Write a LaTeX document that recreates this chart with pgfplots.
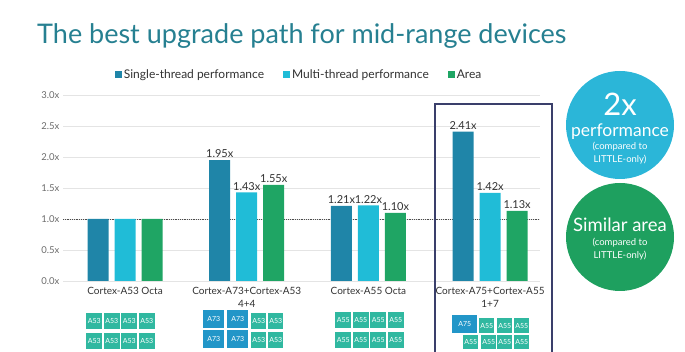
\documentclass[border=0pt]{standalone}
\usepackage{pgfplots}
\pgfplotsset{compat=1.18}
\usepackage{fontspec}
\setmainfont{Lato}
\definecolor{cSingle}{RGB}{31,133,168}
\definecolor{cMulti}{RGB}{32,188,215}
\definecolor{cArea}{RGB}{31,165,100}
\definecolor{cTitle}{RGB}{38,128,145}
\definecolor{cCircB}{RGB}{43,182,216}
\definecolor{cCircG}{RGB}{30,160,95}
\definecolor{cLittle}{RGB}{48,184,160}
\definecolor{cBig}{RGB}{34,150,200}
\definecolor{cBox}{RGB}{58,63,107}
\definecolor{cGrid}{RGB}{228,228,228}
\definecolor{cTxt}{RGB}{50,50,50}
\newcommand{\chip}[6]{\node[fill=#5,minimum width=#3pt,minimum height=#4pt,inner sep=0pt,anchor=north west,text=white,font=\fontsize{7}{8}\selectfont] at (#1pt,{(352-#2)*1pt}) {#6};}
\begin{document}
\begin{tikzpicture}
\useasboundingbox (0,0) rectangle (685pt,352pt);
\node[anchor=west,text=cTitle,font=\fontsize{27}{30}\selectfont,inner sep=0pt] at (37pt,{(352-36)*1pt}) {The best upgrade path for mid-range devices};
\begin{axis}[
  at={(63pt,71pt)}, anchor=south west,
  scale only axis, width=477pt, height=186pt,
  xmin=-0.51, xmax=3.41, ymin=0, ymax=3.0,
  ybar, bar width=21pt,
  ytick={0,0.5,...,3.0},
  xtick={0,1,2,3},
  xticklabels={Cortex-A53 Octa,{Cortex-A73+Cortex-A53\\4+4},Cortex-A55 Octa,{Cortex-A75+Cortex-A55\\1+7}},
  xticklabel style={align=center,font=\fontsize{10}{12.5}\selectfont,text=cTxt,yshift=-3pt},
  yticklabel style={font=\fontsize{9.5}{10}\selectfont,text=gray!85!black},
  /pgf/number format/assume math mode=true,
  yticklabel={\pgfmathprintnumber[fixed,fixed zerofill,precision=1]{\tick}x},
  major tick length=0pt,
  axis line style={draw=none},
  ymajorgrids, grid style={cGrid,line width=0.8pt},
  legend columns=-1,
  legend style={at={(0.495,1.108)},anchor=center,draw=none,fill=none,font=\fontsize{12}{14}\selectfont,text=cTxt,/tikz/every even column/.append style={column sep=17pt}},
  legend image code/.code={\fill[#1] (0pt,-3.5pt) rectangle (7pt,3.5pt);},
]
\addplot[sharp plot,densely dotted,gray!60!black,line width=0.8pt,forget plot] coordinates {(-0.51,1) (3.41,1)};
\addplot[bar shift=-27pt,fill=cSingle,draw=none,nodes near coords,point meta=explicit symbolic,every node near coord/.append style={font=\fontsize{11}{12}\selectfont,text=cTxt,inner sep=2pt}] coordinates {(0,1.00) [\relax] (1,1.95) [1.95x] (2,1.21) [1.21x] (3,2.41) [2.41x]};
\addplot[bar shift=0pt,fill=cMulti,draw=none,nodes near coords,point meta=explicit symbolic,every node near coord/.append style={font=\fontsize{11}{12}\selectfont,text=cTxt,inner sep=2pt}] coordinates {(0,1.00) [\relax] (1,1.43) [1.43x] (2,1.22) [1.22x] (3,1.42) [1.42x]};
\addplot[bar shift=27pt,fill=cArea,draw=none,nodes near coords,point meta=explicit symbolic,every node near coord/.append style={font=\fontsize{11}{12}\selectfont,text=cTxt,inner sep=2pt}] coordinates {(0,1.00) [\relax] (1,1.55) [1.55x] (2,1.10) [1.10x] (3,1.13) [1.13x]};
\legend{Single-thread performance,Multi-thread performance,Area}
\end{axis}
% highlight box
\draw[cBox,line width=1.2pt] (435pt,-2pt) -- (435pt,{(352-104)*1pt}) -- (552pt,{(352-104)*1pt}) -- (552pt,-2pt);
% circles
\fill[cCircB] (620pt,{(352-125)*1pt}) circle (54pt);
\fill[cCircG] (620pt,{(352-237)*1pt}) circle (54pt);
\node[text=white,font=\fontsize{31}{33}\selectfont] at (620pt,{(352-104)*1pt}) {2x};
\node[text=white,font=\fontsize{17.5}{20}\selectfont] at (620pt,{(352-132)*1pt}) {performance};
\node[text=white,font=\fontsize{9.5}{13}\selectfont,align=center] at (620pt,{(352-153)*1pt}) {(compared to\\LITTLE-only)};
\node[text=white,font=\fontsize{18.5}{20}\selectfont] at (620pt,{(352-225)*1pt}) {Similar area};
\node[text=white,font=\fontsize{9.5}{13}\selectfont,align=center] at (620pt,{(352-249)*1pt}) {(compared to\\LITTLE-only)};
% chips group 1
\foreach \cx in {86,103.5,121,138.5}{\foreach \cy in {312.5,333}{\chip{\cx}{\cy}{16}{16}{cLittle}{A53}}}
% chips group 3
\foreach \cx in {335,352.5,370,387.5}{\foreach \cy in {312,332}{\chip{\cx}{\cy}{16}{16}{cLittle}{A55}}}
% chips group 2
\foreach \cx in {203,227}{\foreach \cy in {310,330}{\chip{\cx}{\cy}{21}{18}{cBig}{A73}}}
\foreach \cx in {251,268}{\foreach \cy in {313,332}{\chip{\cx}{\cy}{15}{16}{cLittle}{A53}}}
% chips group 4
\chip{452}{315}{25}{18}{cBig}{A75}
\foreach \cx in {479,497,514}{\chip{\cx}{318}{15}{15}{cLittle}{A55}}
\foreach \cx in {463,481,497,514}{\chip{\cx}{335}{15}{14}{cLittle}{A55}}
\end{tikzpicture}
\end{document}
